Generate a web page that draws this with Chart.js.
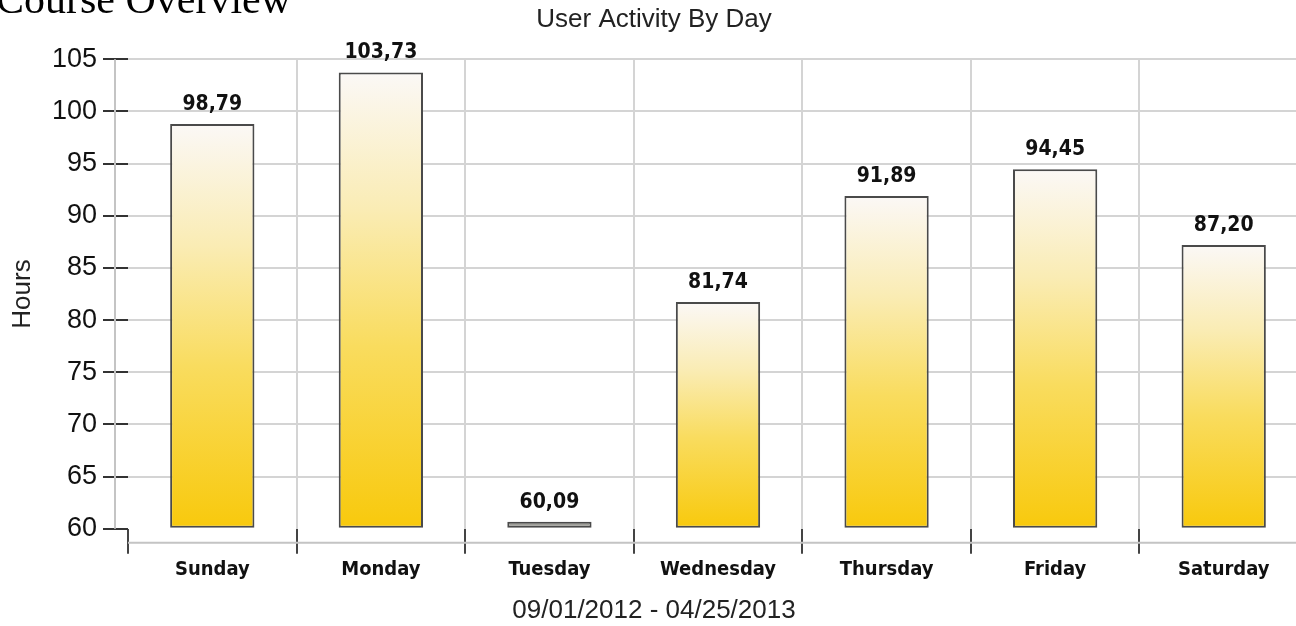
<!DOCTYPE html>
<html>
<head>
<meta charset="utf-8">
<script src="https://cdn.jsdelivr.net/npm/chart.js@4"></script>
<style>
  html, body { margin: 0; padding: 0; overflow: hidden; background: #fff; }
  #heading {
    position: absolute; left: -4px; top: -22px; z-index: 2;
    font: 42px "Liberation Serif", "Times New Roman", serif; line-height: 42px;
    color: #000; white-space: nowrap;
  }
  #wrap { position: relative; width: 1308px; height: 626px; }
</style>
</head>
<body>
<div id="heading">Course Overview</div>
<div id="wrap"><canvas id="chart"></canvas></div>
<script>
// data
const days = ["Sunday", "Monday", "Tuesday", "Wednesday", "Thursday", "Friday", "Saturday"];
const hours = [98.79, 103.73, 60.09, 81.74, 91.89, 94.45, 87.20];
const yMin = 60, yMax = 105, yStep = 5;
const chartTitle = "User Activity By Day";
const dateRange = "09/01/2012 - 04/25/2013";

// yellow gradient per bar, white on top
function barFill(ctx) {
  const chart = ctx.chart;
  if (!chart.chartArea || ctx.type !== "data") return "#f8ca0c";
  const y = chart.scales.y;
  const top = y.getPixelForValue(ctx.raw);
  const bottom = y.getPixelForValue(yMin);
  if (bottom - top < 10) return "#9e9e98"; // tiny bar looks grey
  const g = chart.ctx.createLinearGradient(0, top, 0, bottom);
  g.addColorStop(0, "#fbf8f6");
  g.addColorStop(0.3, "#faecb4");
  g.addColorStop(0.6, "#f9dc5e");
  g.addColorStop(1, "#f8c90c");
  return g;
}

// value labels on top of bars, with decimal comma
const valueLabels = {
  id: "valueLabels",
  afterDatasetsDraw(chart) {
    const ctx = chart.ctx;
    const meta = chart.getDatasetMeta(0);
    ctx.save();
    ctx.font = "bold 21px 'DejaVu Sans Condensed', 'DejaVu Sans', sans-serif";
    ctx.fillStyle = "#111";
    ctx.textAlign = "center";
    ctx.textBaseline = "alphabetic";
    meta.data.forEach((el, i) => {
      ctx.fillText(hours[i].toFixed(2).replace(".", ","), el.x, el.y - 14);
    });
    ctx.restore();
  }
};

// the axis lines sit a bit away from the plot area
const axisLines = {
  id: "axisLines",
  beforeDatasetsDraw(chart) {
    const { ctx, chartArea } = chart;
    ctx.save();
    ctx.strokeStyle = "#c4c4c4";
    ctx.lineWidth = 2;
    ctx.beginPath();
    ctx.moveTo(chartArea.left - 13, chartArea.top);
    ctx.lineTo(chartArea.left - 13, chartArea.bottom);
    ctx.moveTo(chartArea.left, chartArea.bottom + 14);
    ctx.lineTo(chartArea.right, chartArea.bottom + 14);
    ctx.stroke();
    ctx.restore();
  }
};

new Chart(document.getElementById("chart"), {
  type: "bar",
  data: {
    labels: days,
    datasets: [{
      data: hours,
      base: yMin,
      backgroundColor: barFill,
      borderColor: "#4a4a4a",
      borderWidth: 2,
      borderSkipped: false,
      minBarLength: 7,
      barPercentage: 0.5,
      categoryPercentage: 1
    }]
  },
  options: {
    responsive: true,
    maintainAspectRatio: false,
    animation: false,
    layout: { padding: 0 },
    plugins: {
      legend: { display: false },
      tooltip: { enabled: false },
      title: {
        display: true,
        text: chartTitle,
        color: "#222",
        font: { family: "'Liberation Sans', Arial, sans-serif", size: 26, weight: "normal" },
        padding: { top: 4, bottom: 24 }
      },
      subtitle: {
        display: true,
        position: "bottom",
        text: dateRange,
        color: "#222",
        font: { family: "'Liberation Sans', Arial, sans-serif", size: 26, weight: "normal" },
        padding: { top: 2, bottom: 0 }
      }
    },
    scales: {
      x: {
        offset: true,
        border: { display: false },
        grid: {
          offset: true,
          color: c => c.index === 0 ? "rgba(0,0,0,0)" : "#d4d4d4",
          lineWidth: 2,
          tickColor: "#444",
          tickLength: 25,
          tickWidth: 2
        },
        ticks: {
          color: "#111",
          padding: 4,
          maxRotation: 0,
          font: { family: "'DejaVu Sans Condensed', 'DejaVu Sans', sans-serif", size: 20, weight: "bold" }
        },
        afterFit(scale) { scale.height = 64; }
      },
      y: {
        min: yMin,
        max: yMax,
        border: { display: false },
        grid: {
          color: c => c.tick && c.tick.value === yMin ? "rgba(0,0,0,0)" : "#d4d4d4",
          lineWidth: 2,
          tickColor: "#333",
          tickLength: 25,
          tickWidth: 2
        },
        ticks: {
          stepSize: yStep,
          color: "#111",
          padding: 6,
          font: { family: "'Liberation Sans', Arial, sans-serif", size: 27 }
        },
        title: {
          display: true,
          text: "Hours",
          color: "#222",
          padding: { top: 7, bottom: 0 },
          font: { family: "'Liberation Sans', Arial, sans-serif", size: 26 }
        },
        afterFit(scale) { scale.width = 128; }
      }
    }
  },
  plugins: [axisLines, valueLabels]
});
</script>
</body>
</html>
